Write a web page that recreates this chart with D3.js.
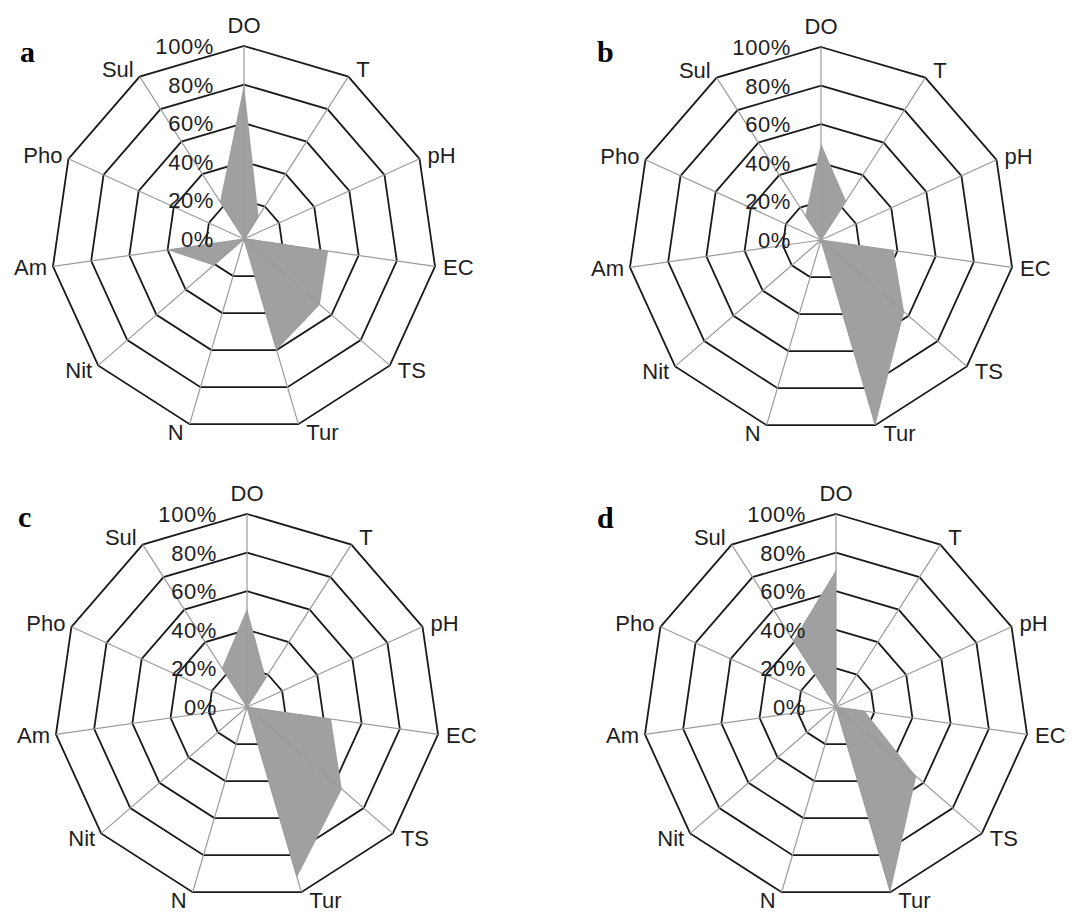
<!DOCTYPE html>
<html>
<head>
<meta charset="utf-8">
<script src="https://cdn.jsdelivr.net/npm/d3@7"></script>
<style>
  html, body { margin: 0; padding: 0; background: #fff; }
  svg { display: block; }
  .cat, .tick { font-family: "Liberation Sans", Arial, sans-serif; font-size: 22px; fill: #1e1e1e; }
  .tick { letter-spacing: 0.6px; }
  .panel-letter { font-family: "Liberation Serif", "Times New Roman", serif; font-weight: bold; font-size: 30px; fill: #000; }
</style>
</head>
<body>
<svg id="chart" width="1073" height="913"></svg>
<script>
// Water-quality parameters around each radar
const categories = ["DO", "T", "pH", "EC", "TS", "Tur", "N", "Nit", "Am", "Pho", "Sul"];

// Percentage score of each parameter, one list per panel
const valuesA = [80, 14, 1, 44, 52, 60, 0, 21, 40, 0, 23];
const valuesB = [50, 24, 0, 38, 57, 100, 0, 0, 0, 0, 15];
const valuesC = [51, 18, 0, 44, 65, 92, 0, 0, 0, 0, 24];
const valuesD = [71, 0, 0, 15, 55, 100, 0, 0, 0, 0, 41];

const panelLetters = ["a", "b", "c", "d"];
const tickValues = [0, 20, 40, 60, 80, 100];
const tickLabels = ["0%", "20%", "40%", "60%", "80%", "100%"];

const panels = [
  { letter: panelLetters[0], values: valuesA, cx: 244, cy: 239, lx: 20, ly: 62 },
  { letter: panelLetters[1], values: valuesB, cx: 821, cy: 240, lx: 597, ly: 62 },
  { letter: panelLetters[2], values: valuesC, cx: 247, cy: 707, lx: 18, ly: 527 },
  { letter: panelLetters[3], values: valuesD, cx: 836, cy: 707, lx: 597, ly: 528 }
];

const R = 193;
const svg = d3.select("#chart");

const rScale = d3.scaleLinear().domain([0, 100]).range([0, R]);
const angle = d3.scaleLinear().domain([0, categories.length]).range([0, 2 * Math.PI]);

const radial = d3.lineRadial()
  .angle((d, i) => angle(i))
  .radius(d => rScale(d))
  .curve(d3.curveLinearClosed);

function drawPanel(p) {
  const g = svg.append("g").attr("transform", `translate(${p.cx},${p.cy})`);

  // concentric 11-gon gridlines
  g.selectAll("path.ring")
    .data(tickValues.filter(t => t > 0))
    .join("path")
    .attr("class", "ring")
    .attr("d", t => radial(categories.map(() => t)))
    .attr("fill", "none")
    .attr("stroke", "#1a1a1a")
    .attr("stroke-width", 1.8)
    .attr("stroke-linejoin", "miter");

  // data area
  g.append("path")
    .attr("d", radial(p.values))
    .attr("fill", "#a0a0a0")
    .attr("stroke", "none");

  // spokes
  g.selectAll("line.spoke")
    .data(categories)
    .join("line")
    .attr("class", "spoke")
    .attr("x1", 0).attr("y1", 0)
    .attr("x2", (d, i) => rScale(100) * Math.sin(angle(i)))
    .attr("y2", (d, i) => -rScale(100) * Math.cos(angle(i)))
    .attr("stroke", "#9a9a9a")
    .attr("stroke-width", 1.2);

  // category labels just outside each outer vertex
  g.selectAll("text.cat")
    .data(categories)
    .join("text")
    .attr("class", "cat")
    .each(function (d, i) {
      const a = angle(i);
      const s = Math.sin(a), c = Math.cos(a);
      const vx = rScale(100) * s, vy = -rScale(100) * c;
      const t = d3.select(this).text(d);
      if (i === 0) {
        t.attr("x", vx).attr("y", vy - 13).attr("text-anchor", "middle");
      } else {
        t.attr("x", vx + (s > 0 ? 8 : -6))
          .attr("y", vy + 7.5 - 8.5 * c)
          .attr("text-anchor", s > 0 ? "start" : "end");
      }
    });

  // value axis labels along the DO spoke
  g.selectAll("text.tick")
    .data(tickValues)
    .join("text")
    .attr("class", "tick")
    .attr("x", -30)
    .attr("y", t => -rScale(t))
    .attr("dy", "0.36em")
    .attr("text-anchor", "end")
    .text((t, i) => tickLabels[i]);

  svg.append("text")
    .attr("class", "panel-letter")
    .attr("x", p.lx)
    .attr("y", p.ly)
    .text(p.letter);
}

panels.forEach(drawPanel);
</script>
</body>
</html>
